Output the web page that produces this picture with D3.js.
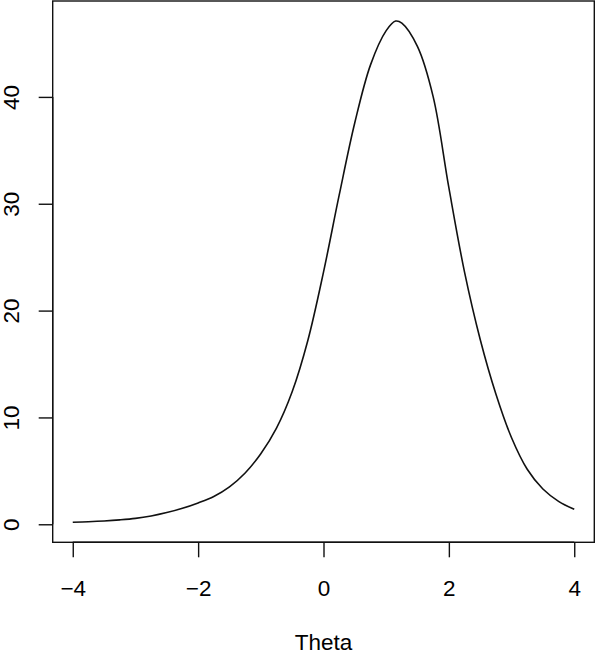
<!DOCTYPE html>
<html>
<head>
<meta charset="utf-8">
<script src="https://cdn.jsdelivr.net/npm/d3@7"></script>
<style>
  body { margin: 0; background: #fff; }
  text { font-family: "Liberation Sans", Arial, sans-serif; fill: #000; }
</style>
</head>
<body>
<svg id="chart" width="596" height="655"></svg>
<script>
// theta grid and information values
thetaVals = [-4, -3.75, -3.5, -3.25, -3, -2.75, -2.5, -2.25, -2, -1.75, -1.5, -1.25, -1, -0.75, -0.5, -0.25,
  0, 0.25, 0.5, 0.75, 1, 1.15, 1.25, 1.5, 1.75, 2, 2.25, 2.5, 2.75, 3, 3.25, 3.5, 3.75, 4];
infoVals = [0.19, 0.24, 0.31, 0.41, 0.55, 0.78, 1.1, 1.5, 2.0, 2.6, 3.5, 4.8, 6.6, 9.0, 12.4, 17.2,
  23.6, 30.8, 37.6, 43.0, 46.2, 47.1, 46.9, 44.7, 40.0, 31.5, 23.6, 17.3, 12.2, 8.1, 5.15, 3.3, 2.15, 1.4];
xTicks = [-4, -2, 0, 2, 4];
yTicks = [0, 10, 20, 30, 40];
xTitle = 'Theta';

let svg = d3.select('#chart');
let plotL = 52.7, plotR = 594.3, plotT = 1, plotB = 542.3;

// R style 4% padding on both axes
let xr = d3.extent(thetaVals), yr = d3.extent(infoVals);
let xpad = (xr[1] - xr[0]) * 0.04, ypad = (yr[1] - yr[0]) * 0.04;
let x = d3.scaleLinear().domain([xr[0] - xpad, xr[1] + xpad]).range([plotL, plotR]);
let y = d3.scaleLinear().domain([yr[0] - ypad, yr[1] + ypad]).range([plotB, plotT]);

let data = thetaVals.map(function(t, i){ return [t, infoVals[i]]; });

svg.append('path')
  .datum(data)
  .attr('fill', 'none')
  .attr('stroke', '#111')
  .attr('stroke-width', 1.6)
  .attr('d', d3.line().x(d => x(d[0])).y(d => y(d[1])).curve(d3.curveCatmullRom));

// box
svg.append('rect')
  .attr('x', plotL).attr('y', plotT)
  .attr('width', plotR - plotL).attr('height', plotB - plotT)
  .attr('fill', 'none').attr('stroke', '#111').attr('stroke-width', 1.4);

let xAxis = svg.append('g')
  .attr('transform', 'translate(0,' + plotB + ')')
  .call(d3.axisBottom(x).tickValues(xTicks).tickSize(15)
    .tickFormat(d => d < 0 ? '\u2212' + Math.abs(d) : d));
xAxis.select('.domain').attr('d', 'M' + x(xTicks[0]) + ',0H' + x(xTicks[xTicks.length - 1]))
  .attr('stroke', '#111').attr('stroke-width', 1.4);
xAxis.selectAll('line').attr('stroke', '#111').attr('stroke-width', 1.4);
xAxis.selectAll('text').style('font-size', '22.5px').style('font-family', '"Liberation Sans", Arial, sans-serif')
  .attr('fill', '#000').attr('dy', null).attr('y', 53.5);

let yAxis = svg.append('g')
  .attr('transform', 'translate(' + plotL + ',0)')
  .call(d3.axisLeft(y).tickValues(yTicks).tickSize(14).tickFormat(d3.format('d')));
yAxis.select('.domain').attr('d', 'M0,' + y(yTicks[0]) + 'V' + y(yTicks[yTicks.length - 1]))
  .attr('stroke', '#111').attr('stroke-width', 1.4);
yAxis.selectAll('line').attr('stroke', '#111').attr('stroke-width', 1.4);
yAxis.selectAll('text')
  .style('font-size', '22.5px').style('font-family', '"Liberation Sans", Arial, sans-serif')
  .attr('fill', '#000')
  .attr('x', null).attr('dy', null)
  .attr('text-anchor', 'middle')
  .attr('transform', 'translate(' + (18.5 - plotL) + ',0) rotate(-90)');

svg.append('text')
  .attr('x', x(0)).attr('y', 650)
  .attr('text-anchor', 'middle')
  .style('font-size', '22.5px')
  .text(xTitle);
</script>
</body>
</html>
